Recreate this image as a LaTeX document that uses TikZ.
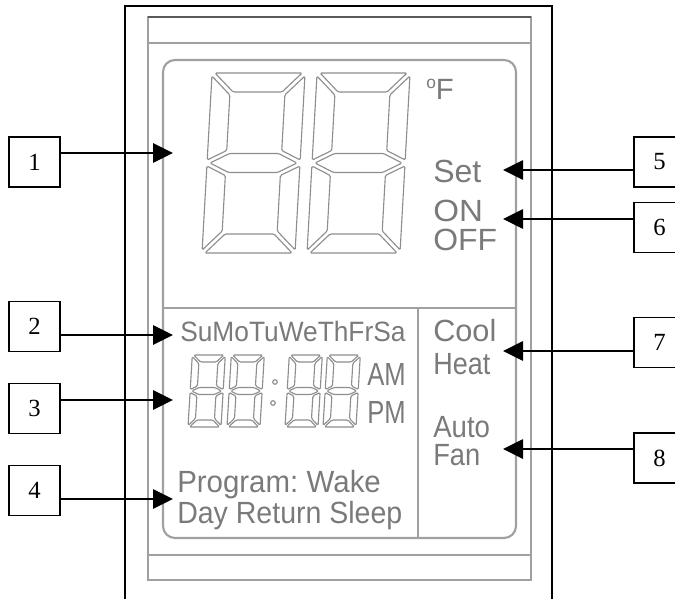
\documentclass[tikz,border=0pt]{standalone}
\usepackage{fontspec}
\usepackage{graphicx}
\setmainfont{Liberation Serif}
\newfontfamily\lcdfont{Liberation Sans}
\usetikzlibrary{arrows.meta}
\definecolor{lcdtext}{HTML}{7A7A7A}
\definecolor{lcdline}{HTML}{A0A0A0}
\definecolor{segcol}{HTML}{8E8E8E}

\newcommand\lcddigit[7]{%
 \begin{scope}[shift={(#1,#2)}, xslant=#7]
  \pgfmathsetmacro\dW{#3}\pgfmathsetmacro\dH{#4}\pgfmathsetmacro\dT{#5}%
  \pgfmathsetmacro\dG{#6}\pgfmathsetmacro\dM{#4/2}%
  \draw[segline] ({\dG},{-\dH}) -- ({\dW-\dG},{-\dH}) -- ({\dW-\dT-\dG},{-\dH+\dT}) -- ({\dT+\dG},{-\dH+\dT}) -- cycle;
  \draw[segline] ({\dG},0) -- ({\dW-\dG},0) -- ({\dW-\dT-\dG},{-\dT}) -- ({\dT+\dG},{-\dT}) -- cycle;
  \draw[segline] (0,{-\dH+\dG}) -- ({\dT},{-\dH+\dT+\dG}) -- ({\dT},{-\dM-\dT/2-\dG}) -- (0,{-\dM-\dG}) -- cycle;
  \draw[segline] ({\dW},{-\dH+\dG}) -- ({\dW-\dT},{-\dH+\dT+\dG}) -- ({\dW-\dT},{-\dM-\dT/2-\dG}) -- ({\dW},{-\dM-\dG}) -- cycle;
  \draw[segline] (0,{-\dG}) -- ({\dT},{-\dT-\dG}) -- ({\dT},{-\dM+\dT/2+\dG}) -- (0,{-\dM+\dG}) -- cycle;
  \draw[segline] ({\dW},{-\dG}) -- ({\dW-\dT},{-\dT-\dG}) -- ({\dW-\dT},{-\dM+\dT/2+\dG}) -- ({\dW},{-\dM+\dG}) -- cycle;
  \draw[segline] ({\dG},{-\dM}) -- ({\dT+\dG},{-\dM-\dT/2}) -- ({\dW-\dT-\dG},{-\dM-\dT/2}) -- ({\dW-\dG},{-\dM}) -- ({\dW-\dT-\dG},{-\dM+\dT/2}) -- ({\dT+\dG},{-\dM+\dT/2}) -- cycle;
 \end{scope}}

\begin{document}
\begin{tikzpicture}[x=0.75pt, y=-0.75pt,
  segline/.style={draw=segcol, line width=0.85pt, rounded corners=1pt},
  lcdl/.style={draw=lcdline, line width=1.6pt},
  frameline/.style={draw=black, line width=1.4pt},
  numbox/.style={draw=black, line width=1.2pt, minimum width=38pt, minimum height=37.5pt, inner sep=0pt, font=\fontsize{18.5}{18.5}\selectfont},
  conn/.style={draw=black, line width=1.2pt, -{Triangle[length=15pt, width=14.5pt]}},
  lcdt/.style={text=lcdtext, inner sep=0pt, anchor=base west}]
\useasboundingbox (0,0) rectangle (675,599);
\clip (0,0) rectangle (675,599);

% outer black frame (open at the bottom)
\draw[frameline] (125,610) -- (125,6) -- (552,6) -- (552,610);

% device body
\draw[lcdl] (148,17) rectangle (531,580);
\draw[draw=black!65, line width=2.2pt] (148,17) -- (531,17);
\draw[lcdl] (148,43) -- (531,43);
\draw[lcdl] (148,555) -- (531,555);

% display panel
\draw[lcdl, rounded corners=9pt] (163,60) rectangle (516,538);
\draw[lcdl] (163,308) -- (516,308);
\draw[lcdl] (418,308) -- (418,538);

% big digits
\lcddigit{202}{253}{93}{180}{19}{3}{0.056}
\lcddigit{307}{253}{93}{180}{19}{3}{0.056}

% small clock digits
\lcddigit{188}{427}{33}{72}{7}{1.5}{0.06}
\lcddigit{227}{427}{33}{72}{7}{1.5}{0.06}
\lcddigit{285}{427}{33}{72}{7}{1.5}{0.06}
\lcddigit{323}{427}{33}{72}{7}{1.5}{0.06}
\draw[segline] (275,382) circle[radius=1.7pt];
\draw[segline] (273,403) circle[radius=1.7pt];

% LCD texts
\node[lcdt, font=\lcdfont\fontsize{22}{22}\selectfont] (degf) at (426,100) {\raisebox{8.3pt}{\fontsize{13}{13}\selectfont o}F};
\node[lcdt, font=\lcdfont\fontsize{24}{24}\selectfont] (set) at (433,183) {Set};
\node[lcdt, font=\lcdfont\fontsize{23}{23}\selectfont] (on) at (433,222) {\scalebox{1.08}[1]{ON}};
\node[lcdt, font=\lcdfont\fontsize{23}{23}\selectfont] (off) at (433,251) {\scalebox{1.04}[1]{OFF}};
\node[lcdt, font=\lcdfont\fontsize{21}{21}\selectfont] (days) at (180,341) {\scalebox{0.94}[1]{SuMoTuWeThFrSa}};
\node[lcdt, font=\lcdfont\fontsize{24}{24}\selectfont] (am) at (367,385) {\scalebox{0.8}[1]{AM}};
\node[lcdt, font=\lcdfont\fontsize{24}{24}\selectfont] (pm) at (367,423) {\scalebox{0.8}[1]{PM}};
\node[lcdt, font=\lcdfont\fontsize{23}{23}\selectfont] (prog) at (177,492) {\scalebox{0.96}[1]{Program:\hspace{-2pt} Wake}};
\node[lcdt, font=\lcdfont\fontsize{23}{23}\selectfont] (dayret) at (177,523) {\scalebox{0.93}[1]{Day Return Sleep}};
\node[lcdt, font=\lcdfont\fontsize{23}{23}\selectfont] (cool) at (433,341) {Cool};
\node[lcdt, font=\lcdfont\fontsize{23}{23}\selectfont] (heat) at (433,374) {\scalebox{0.88}[1]{Heat}};
\node[lcdt, font=\lcdfont\fontsize{23}{23}\selectfont] (auto) at (433,437) {\scalebox{0.9}[1]{Auto}};
\node[lcdt, font=\lcdfont\fontsize{23}{23}\selectfont] (fan) at (433,465) {\scalebox{0.89}[1]{Fan}};

% numbered boxes
\node[numbox] (b1) at (34.5,162) {1};
\node[numbox] (b2) at (34.5,326.5) {2};
\node[numbox] (b3) at (34.5,408.5) {3};
\node[numbox] (b4) at (34.5,490.5) {4};
\node[numbox] (b5) at (659.5,162) {5};
\node[numbox] (b6) at (659.5,227.5) {6};
\node[numbox] (b7) at (659.5,342.5) {7};
\node[numbox] (b8) at (659.5,458) {8};

% arrow tips
\coordinate (t1) at (173,153);
\coordinate (t2) at (173,335);
\coordinate (t3) at (173,400);
\coordinate (t4) at (173,499);
\coordinate (t5) at (503,170);
\coordinate (t6) at (503,219);
\coordinate (t7) at (503,351);
\coordinate (t8) at (503,449);

\draw[conn] (b1.east |- t1) -- (t1);
\draw[conn] (b2.east |- t2) -- (t2);
\draw[conn] (b3.east |- t3) -- (t3);
\draw[conn] (b4.east |- t4) -- (t4);
\draw[conn] (b5.west |- t5) -- (t5);
\draw[conn] (b6.west |- t6) -- (t6);
\draw[conn] (b7.west |- t7) -- (t7);
\draw[conn] (b8.west |- t8) -- (t8);
\end{tikzpicture}
\end{document}
